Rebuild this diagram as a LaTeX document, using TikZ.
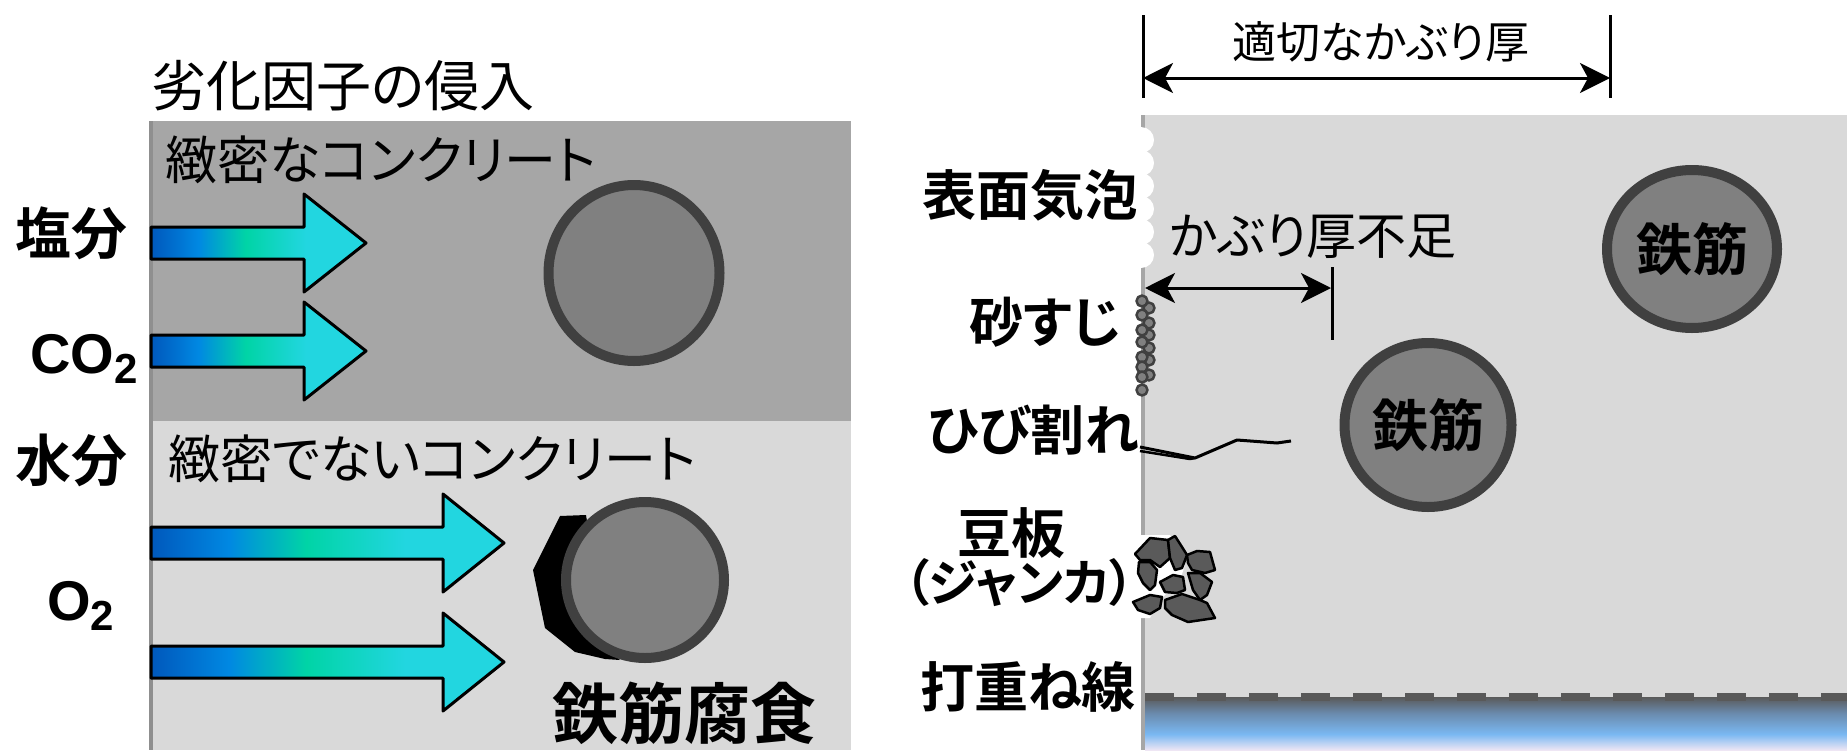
\documentclass[tikz,border=0pt]{standalone}
\usepackage{fontspec}
\setmainfont{Noto Sans CJK JP}[BoldFont={Noto Sans CJK JP Bold}, RawFeature=+palt]
\newfontfamily\gasfont{Liberation Sans}
\usetikzlibrary{shapes.geometric, arrows.meta}

\definecolor{denseGray}{HTML}{A6A6A6}
\definecolor{looseGray}{HTML}{D9D9D9}
\definecolor{edgeGray}{HTML}{8F8F8F}
\definecolor{rebarFill}{HTML}{808080}
\definecolor{rebarRim}{HTML}{404040}
\definecolor{stoneGray}{HTML}{5A5A5A}
\definecolor{jointGray}{HTML}{595959}
\definecolor{flowA}{HTML}{0058BC}
\definecolor{flowB}{HTML}{0088E2}
\definecolor{flowC}{HTML}{00D4A6}
\definecolor{flowD}{HTML}{22D6E0}
\definecolor{bandA}{HTML}{5A5A5A}
\definecolor{bandB}{HTML}{6A8AAC}
\definecolor{bandC}{HTML}{7AB8F2}
\definecolor{bandD}{HTML}{EEE6F4}

\pgfdeclarehorizontalshading{flowshade}{100bp}{color(0bp)=(flowA); color(25bp)=(flowA);
  color(36bp)=(flowB); color(47bp)=(flowC); color(61bp)=(flowD); color(100bp)=(flowD)}
\pgfdeclareverticalshading{bandshade}{100bp}{color(0bp)=(bandD); color(25bp)=(bandD);
  color(40bp)=(bandC); color(60bp)=(bandB); color(75bp)=(bandA); color(100bp)=(bandA)}

% sizes are given in px, one px per pt
\newcommand{\pxfont}[1]{\fontsize{#1}{#1}\selectfont}
% block arrow: axis y, head base x, tip x
\newcommand{\flowarrow}[3]{%
  \draw[flow] (151,#1-16) -- (#2,#1-16) -- (#2,#1-49) -- (#3,#1) -- (#2,#1+49)
    -- (#2,#1+16) -- (151,#1+16) -- cycle;}

\begin{document}
\begin{tikzpicture}[x=1pt, y=-1pt, line join=round,
        >={Stealth[length=30pt, width=30pt, inset=8pt]},
        jp/.style={inner sep=0pt, font=\pxfont{52}},
        jpb/.style={inner sep=0pt, font=\bfseries\pxfont{54}},
        gas/.style={inner sep=0pt, font=\gasfont\bfseries\pxfont{56}},
        rebar/.style={ellipse, draw=rebarRim, fill=rebarFill, line width=10pt, inner sep=0pt, font=\bfseries\pxfont{56}},
        grain/.style={fill=rebarFill, draw=rebarRim, line width=2.5pt},
        stone/.style={fill=stoneGray, draw=black, line width=2.5pt},
        flow/.style={draw=black, line width=3pt, shading=flowshade},
        dim/.style={<->, line width=3pt},
        tick/.style={line width=3pt}]
    \useasboundingbox (0,0) rectangle (1847,750);
    \fill[white] (0,0) rectangle (1847,750);

    % dense / loose concrete
    \fill[denseGray] (151,121) rectangle (851,421);
    \fill[looseGray] (151,421) rectangle (851,750);
    \draw[edgeGray, line width=4pt] (151,121) -- (151,750);

    \node[jp, font=\pxfont{55}] (title) at (343,86) {劣化因子の侵入};
    \node[jp, anchor=west] (dense) at (165,160) {緻密なコンクリート};
    \node[jp, anchor=west] (loose) at (168,459) {緻密でないコンクリート};

    \node[jpb, font=\bfseries\pxfont{56}] (salt) at (72,233) {塩分};
    \node[gas, anchor=base west] (co2) at (30,373) {CO\raisebox{-10pt}{\pxfont{42}2}};
    \node[jpb, font=\bfseries\pxfont{56}] (water) at (72,460) {水分};
    \node[gas, anchor=base west] (o2) at (47,620) {O\raisebox{-10pt}{\pxfont{42}2}};

    \flowarrow{243}{304}{366}
    \flowarrow{351}{304}{366}
    \flowarrow{543}{443}{504}
    \flowarrow{662}{443}{504}

    \node[rebar, minimum width=171pt, minimum height=176pt] (rebarDense) at (634,273) {};
    % rust layer
    \fill[black] (560,516) -- (586,515) -- (590,540) -- (575,580) -- (590,630) -- (620,660)
        -- (605,659) -- (575,652) -- (545,628) -- (533,570) -- cycle;
    \node[rebar, minimum width=158pt, minimum height=156pt] (rebarLoose) at (645,580) {};
    \node[jpb, font=\bfseries\pxfont{66}] (rust) at (684,713) {鉄筋腐食};

    % cover depth section
    \fill[looseGray] (1143,115) rectangle (1847,750);
    \draw[denseGray, line width=4pt] (1143,115) -- (1143,750);
    \shade[shading=bandshade] (1145,697) rectangle (1847,750);
    \draw[jointGray, line width=8pt, dash pattern=on 29pt off 23pt] (1145,697) -- (1847,697);

    \coordinate (coverL) at (1143,78);
    \coordinate (coverR) at (1610,78);
    \draw[tick] (1143,15) -- (1143,98);
    \draw[tick] (1610,15) -- (1610,98);
    \draw[dim] (coverL) -- (coverR);
    \node[jp, font=\pxfont{44}] (coverOk) at (1381,42) {適切なかぶり厚};

    % surface voids
    \foreach \y in {140,163,186,209,232,255}
        \fill[white] (1141,\y) circle (13pt);
    \node[jpb, anchor=east] (bubble) at (1139,195) {表面気泡};

    \coordinate (shortL) at (1145,288);
    \coordinate (shortR) at (1331,288);
    \draw[tick] (1332,267) -- (1332,340);
    \draw[dim] (shortL) -- (shortR);
    \node[jp, font=\pxfont{50}] (coverShort) at (1313,237) {かぶり厚不足};

    % sand streak
    \foreach \y in {308,323,335,348,360,375}
        \draw[grain] (1149,\y) circle (5.5pt);
    \foreach \y in {301,315,330,342,357,367,377,390}
        \draw[grain] (1142,\y) circle (5.5pt);
    \node[jpb, anchor=east] (sand) at (1121,322) {砂すじ};

    % crack
    \draw[line width=3pt] (1140,447) -- (1195,458) -- (1237,440) -- (1277,443) -- (1291,441);
    \draw[line width=2.5pt] (1140,451) -- (1190,459) -- (1195,458);
    \node[jpb, anchor=east] (crack) at (1139,430) {ひび割れ};

    \node[rebar, minimum width=170pt, minimum height=158pt] (rebarDeep) at (1692,249) {鉄筋};
    \node[rebar, minimum width=167pt, minimum height=164pt] (rebarShallow) at (1428,425) {鉄筋};

    % honeycomb
    \fill[white] (1130,535) -- (1170,535) -- (1185,565) -- (1180,580) -- (1160,600)
        -- (1150,618) -- (1130,618) -- cycle;
    \draw[stone] (1135,554) -- (1150,538) -- (1168,540) -- (1170,558) -- (1160,567) -- (1150,560) -- (1140,560) -- cycle;
    \draw[stone] (1168,540) -- (1175,536) -- (1182,547) -- (1187,555) -- (1182,568) -- (1175,570) -- (1170,558) -- cycle;
    \draw[stone] (1187,555) -- (1197,551) -- (1210,552) -- (1215,570) -- (1205,573) -- (1192,570) -- (1188,563) -- cycle;
    \draw[stone] (1139,562) -- (1150,562) -- (1157,570) -- (1155,585) -- (1150,590) -- (1143,583) -- (1138,573) -- cycle;
    \draw[stone] (1160,582) -- (1173,575) -- (1183,577) -- (1185,590) -- (1177,593) -- (1165,592) -- cycle;
    \draw[stone] (1188,573) -- (1200,573) -- (1212,582) -- (1207,595) -- (1200,600) -- (1193,590) -- cycle;
    \draw[stone] (1133,602) -- (1150,595) -- (1162,597) -- (1160,608) -- (1150,614) -- (1138,610) -- cycle;
    \draw[stone] (1165,600) -- (1182,594) -- (1200,600) -- (1207,603) -- (1215,618) -- (1188,622) -- (1172,615) -- (1165,608) -- cycle;
    \node[jpb] (honey) at (1011,533) {豆板};
    \node[jpb, anchor=east, font=\bfseries\pxfont{50}] (honeyKana) at (1135,583) {（ジャンカ）};

    \node[jpb, anchor=east] (joint) at (1136,687) {打重ね線};
\end{tikzpicture}
\end{document}
